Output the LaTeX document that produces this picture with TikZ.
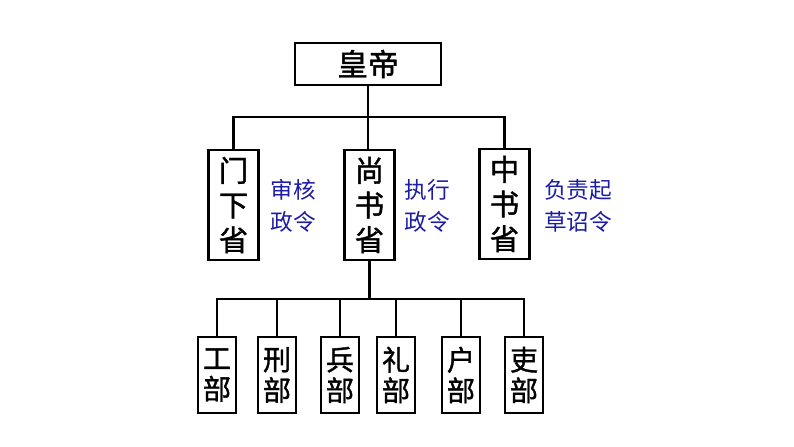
\documentclass[tikz,border=0pt]{standalone}
\usepackage{fontspec}
\setmainfont{Noto Sans CJK SC}
\newfontfamily\boxfont{Noto Sans CJK SC}[FakeBold=1.3]
\definecolor{noteblue}{RGB}{28,28,165}

\begin{document}
\begin{tikzpicture}[x=0.75pt,y=-0.75pt,line width=1.9pt,
  topbox/.style={draw, minimum width=109.5pt, minimum height=31.5pt, inner sep=0pt, font=\boxfont\fontsize{23}{26}\selectfont},
  shengbox/.style={draw, minimum width=37.5pt, minimum height=82.5pt, inner sep=0pt, align=center, font=\boxfont\fontsize{22}{26}\selectfont},
  bubox/.style={draw, minimum width=28.5pt, minimum height=57pt, inner sep=0pt, align=center, font=\boxfont\fontsize{21}{23}\selectfont},
  note/.style={text=noteblue, align=left, inner sep=0pt, font=\fontsize{17}{24}\selectfont}]
\useasboundingbox (0,0) rectangle (794,447);

\node[topbox] at (368,64) (emperor) {皇帝};
\node[shengbox] at (233.5,205) (menxia) {门\\下\\省};
\node[shengbox] at (369.5,205) (shangshu) {尚\\书\\省};
\node[shengbox] at (504.5,204) (zhongshu) {中\\书\\省};
\node[note] at (293,206) (menxianote) {审核\\政令};
\node[note] at (427,206) (shangshunote) {执行\\政令};
\node[note] at (578,206) (zhongshunote) {负责起\\草诏令};

\node[bubox] at (217,375) (gong) {工\\部};
\node[bubox] at (277,375) (xing) {刑\\部};
\node[bubox] at (340,375) (bing) {兵\\部};
\node[bubox] at (396,375) (lidept) {礼\\部};
\node[bubox] at (461,375) (hu) {户\\部};
\node[bubox] at (524,375) (libu) {吏\\部};

\coordinate (topbar) at (368,117);
\coordinate (bus) at (370,299);

\draw (emperor.south) -- (emperor.south |- menxia.north);
\draw (menxia.north) -- (menxia.north |- topbar) -- (zhongshu.north |- topbar) -- (zhongshu.north);
\draw (shangshu.south) -- (shangshu.south |- bus);
\draw (gong.north) -- (gong.north |- bus) -- (libu.north |- bus) -- (libu.north);
\foreach \n in {xing,bing,lidept,hu}
  \draw (\n.north) -- (\n.north |- bus);

\end{tikzpicture}
\end{document}
